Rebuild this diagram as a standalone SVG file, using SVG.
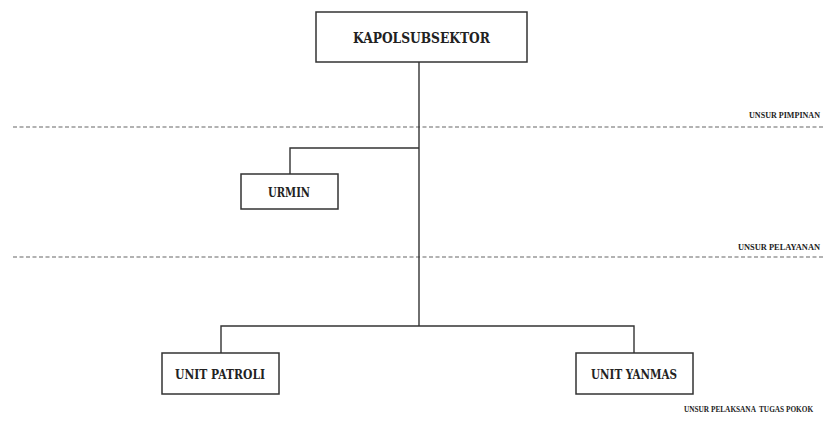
<svg xmlns="http://www.w3.org/2000/svg" width="824" height="445" viewBox="0 0 824 445">
<style>
.box{fill:#fff;stroke:#333;stroke-width:1.5}
.ln{fill:none;stroke:#333;stroke-width:1.4}
.dash{fill:none;stroke:#666;stroke-width:1.2;stroke-dasharray:4 2.5}
.t{font-family:"DejaVu Serif","Liberation Serif",serif;font-weight:bold;fill:#222;text-anchor:middle}
.lbl{font-family:"Liberation Serif","DejaVu Serif",serif;font-weight:bold;fill:#222;font-size:8.5px;text-anchor:start}
</style>
<rect width="824" height="445" fill="#fff"/>
<g id="dividers">
<line class="dash" x1="13" y1="127" x2="824" y2="127"/>
<line class="dash" x1="13" y1="257" x2="824" y2="257"/>
<text class="lbl" x="749" y="118" textLength="71" lengthAdjust="spacingAndGlyphs">UNSUR PIMPINAN</text>
<text class="lbl" x="738" y="250" textLength="82" lengthAdjust="spacingAndGlyphs">UNSUR  PELAYANAN</text>
<text class="lbl" transform="translate(684,412) scale(0.86,1)" x="0" y="0" style="white-space:pre">UNSUR PELAKSANA  TUGAS POKOK</text>
</g>
<g id="connectors">
<polyline class="ln" points="419,62 419,326"/>
<polyline class="ln" points="419,148 290,148 290,174"/>
<polyline class="ln" points="221,353 221,326 634,326 634,353"/>
</g>
<g id="kapolsubsektor">
<rect class="box" x="316" y="12" width="211" height="50"/>
<text class="t" x="421.5" y="43" font-size="15" textLength="137" lengthAdjust="spacingAndGlyphs">KAPOLSUBSEKTOR</text>
</g>
<g id="urmin">
<rect class="box" x="241" y="174" width="97" height="35"/>
<text class="t" x="289" y="197" font-size="13" textLength="42" lengthAdjust="spacingAndGlyphs">URMIN</text>
</g>
<g id="unit-patroli">
<rect class="box" x="162" y="353" width="117" height="41"/>
<text class="t" x="220" y="379" font-size="13" textLength="90" lengthAdjust="spacingAndGlyphs">UNIT PATROLI</text>
</g>
<g id="unit-yanmas">
<rect class="box" x="576" y="353" width="117" height="41"/>
<text class="t" x="634" y="379" font-size="13" textLength="86" lengthAdjust="spacingAndGlyphs">UNIT YANMAS</text>
</g>
</svg>
